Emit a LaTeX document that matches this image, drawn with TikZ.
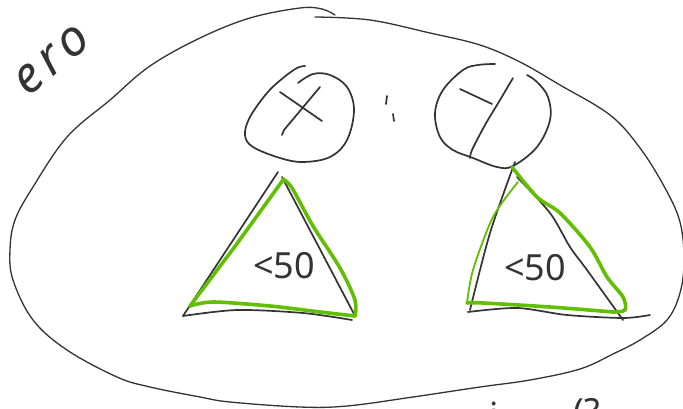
\documentclass[tikz,border=0pt]{standalone}
\usepackage{fontspec}
\setmainfont{Noto Sans}
\definecolor{ink}{HTML}{333333}
\definecolor{marker}{RGB}{98,190,0}

\begin{document}
\begin{tikzpicture}[x=1pt, y=-1pt,
  ink/.style={draw=ink, line width=1.7pt, line cap=round, line join=round},
  thinink/.style={ink, line width=1.3pt},
  marker/.style={draw=marker, line width=3.6pt, line cap=round, line join=round},
  thinmarker/.style={marker, line width=1.8pt},
  hand/.style={text=ink, inner sep=0pt, font=\fontsize{36}{36}\selectfont}
]
  \useasboundingbox (0,0) rectangle (683,409);

  % outer blob
  \draw[thinink] plot[smooth, tension=0.6] coordinates {
    (315,17) (370,20) (430,33) (480,45) (520,62) (560,85) (610,115) (640,148)
    (665,188) (680,222) (684,260) (680,293) (667,320) (640,340) (613,354)
    (580,369) (530,380) (480,387) (413,397) (347,406) (300,407) (230,402)
    (200,397) (150,387) (117,377) (67,350) (33,320) (13,280) (10,250) (15,220)
    (33,187) (67,137) (110,100) (150,66) (200,38) (250,18) (300,8) (322,9) (335,15)};

  % scribbled word, top left
  \node[hand, rotate=40, font=\fontsize{50}{50}\selectfont\itshape\addfontfeature{LetterSpace=12}] (word) at (52,60) {ero};

  % X circle
  \draw[ink] plot[smooth, tension=0.6] coordinates {
    (298,83) (313,74) (330,75) (347,87) (354,110) (347,140) (330,157) (303,162)
    (280,158) (253,147) (245,135) (250,117) (267,93) (283,78) (297,68) (305,66)};
  \draw[ink] (280,92) -- (322,121);
  \draw[ink] (320,87) -- (284,130) -- (282,135);

  % colon
  \draw[ink] (387,96) -- (386,104);
  \draw[ink] (393,114) -- (394,121);

  % Y circle
  \draw[ink] plot[smooth, tension=0.6] coordinates {
    (495,64) (478,65) (463,70) (443,90) (435,113) (440,137) (453,150) (473,158)
    (497,167) (513,166) (537,147) (550,120) (548,97) (537,82) (527,75)};
  \draw[ink] (460,89) -- (492,104);
  \draw[ink] plot[smooth] coordinates {(513,78) (500,100) (485,125) (472,150) (470,158)};

  % left triangle
  \draw[ink] (278,172) -- (183,316);
  \draw[ink] plot[smooth] coordinates {(183,316) (237,310) (303,313) (352,320)};
  \draw[ink] (282,177) -- (354,314);
  \draw[marker] (283,180) -- (236,245) -- (190,306);
  \draw[marker] plot[smooth] coordinates {(190,306) (213,302) (270,306) (320,312) (355,316)};
  \draw[marker] plot[smooth] coordinates {(355,316) (355,300) (340,268) (313,226) (292,188) (283,179)};
  \node[hand] (lt) at (284,266) {<50};

  % right triangle
  \draw[ink] plot[smooth] coordinates {(515,162) (490,233) (470,310)};
  \draw[ink] plot[smooth] coordinates {(468,312) (517,308) (567,315) (623,318) (650,315)};
  \draw[ink] plot[smooth] coordinates {(517,177) (550,213) (570,247) (587,270) (623,320)};
  \draw[marker] plot[smooth] coordinates {(512,167) (537,197) (560,213) (590,247) (607,277) (623,297) (625,310) (613,312)};
  \draw[marker] plot[smooth] coordinates {(613,312) (550,307) (483,303) (467,303)};
  \draw[thinmarker] plot[smooth] coordinates {(467,303) (473,270) (493,217) (518,182)};
  \node[hand] (rt) at (535,268) {<50};

  % cut-off text, bottom right
  \node[hand, anchor=base] (note) at (494,428) {i};
  \node[hand, anchor=base west] (ask) at (573,424) {(?};
\end{tikzpicture}
\end{document}
